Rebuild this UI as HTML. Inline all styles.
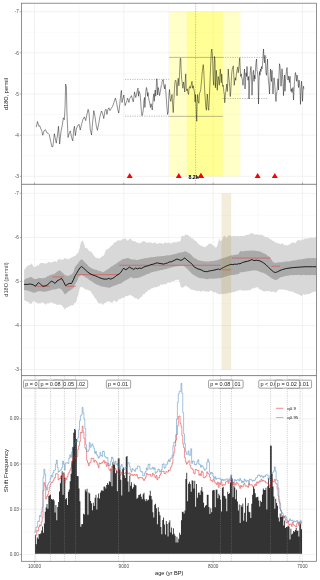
<!DOCTYPE html>
<html lang="en"><head><meta charset="utf-8"><title>Shift frequency plot</title>
<style>html,body{margin:0;padding:0;background:#fff}body{width:320px;height:580px;overflow:hidden}svg text{white-space:pre}</style></head>
<body>
<svg width="320" height="580" viewBox="0 0 320 580" style="display:block">
<rect width="320" height="580" fill="#fff"/>
<defs>
<clipPath id="c1"><rect x="21.5" y="3.2" width="295.0" height="181.10000000000002"/></clipPath>
<clipPath id="c2"><rect x="21.5" y="184.3" width="295.0" height="191.3"/></clipPath>
<clipPath id="c3"><rect x="21.5" y="375.6" width="295.0" height="185.69999999999993"/></clipPath>
</defs>
<g id="panel1">
<line x1="79.17" x2="79.17" y1="3.2" y2="184.3" stroke="#f1f1f1" stroke-width="0.35"/>
<line x1="168.50" x2="168.50" y1="3.2" y2="184.3" stroke="#f1f1f1" stroke-width="0.35"/>
<line x1="257.83" x2="257.83" y1="3.2" y2="184.3" stroke="#f1f1f1" stroke-width="0.35"/>
<line x1="21.5" x2="316.5" y1="32.27" y2="32.27" stroke="#f1f1f1" stroke-width="0.35"/>
<line x1="21.5" x2="316.5" y1="73.42" y2="73.42" stroke="#f1f1f1" stroke-width="0.35"/>
<line x1="21.5" x2="316.5" y1="114.58" y2="114.58" stroke="#f1f1f1" stroke-width="0.35"/>
<line x1="21.5" x2="316.5" y1="155.72" y2="155.72" stroke="#f1f1f1" stroke-width="0.35"/>
<line x1="34.50" x2="34.50" y1="3.2" y2="184.3" stroke="#e9e9e9" stroke-width="0.6"/>
<line x1="123.83" x2="123.83" y1="3.2" y2="184.3" stroke="#e9e9e9" stroke-width="0.6"/>
<line x1="213.16" x2="213.16" y1="3.2" y2="184.3" stroke="#e9e9e9" stroke-width="0.6"/>
<line x1="302.49" x2="302.49" y1="3.2" y2="184.3" stroke="#e9e9e9" stroke-width="0.6"/>
<line x1="21.5" x2="316.5" y1="11.70" y2="11.70" stroke="#e9e9e9" stroke-width="0.6"/>
<line x1="21.5" x2="316.5" y1="52.85" y2="52.85" stroke="#e9e9e9" stroke-width="0.6"/>
<line x1="21.5" x2="316.5" y1="94.00" y2="94.00" stroke="#e9e9e9" stroke-width="0.6"/>
<line x1="21.5" x2="316.5" y1="135.15" y2="135.15" stroke="#e9e9e9" stroke-width="0.6"/>
<line x1="21.5" x2="316.5" y1="176.30" y2="176.30" stroke="#e9e9e9" stroke-width="0.6"/>
<g clip-path="url(#c1)">
<rect x="169" y="11.70" width="71.40" height="164.60" fill="#ffff00" fill-opacity="0.22"/>
<rect x="186.9" y="11.70" width="35.85" height="164.60" fill="#ffff00" fill-opacity="0.25"/>
<line x1="195.6" x2="195.6" y1="3.2" y2="184.3" stroke="#909090" stroke-width="0.55" stroke-dasharray="1.3 1.3"/>
<line x1="125" x2="169" y1="79.4" y2="79.4" stroke="#555" stroke-width="0.4" stroke-dasharray="1.2 1.2"/>
<line x1="125" x2="169" y1="116.2" y2="116.2" stroke="#555" stroke-width="0.4" stroke-dasharray="1.2 1.2"/>
<line x1="169" x2="222.75" y1="57.4" y2="57.4" stroke="#555" stroke-width="0.4"/>
<line x1="169" x2="222.75" y1="116.4" y2="116.4" stroke="#555" stroke-width="0.4"/>
<line x1="222.75" x2="267.5" y1="57.4" y2="57.4" stroke="#555" stroke-width="0.4" stroke-dasharray="1.2 1.2"/>
<line x1="222.75" x2="267.5" y1="98.5" y2="98.5" stroke="#555" stroke-width="0.4" stroke-dasharray="1.2 1.2"/>
<polyline fill="none" stroke="#000" stroke-width="0.44" stroke-linejoin="round" points="36.19,127.19 37.5,121.56 38.81,126.25 39.75,125.69 40.88,129.06 41.62,130.0 42.75,135.25 44.06,130.94 45.38,129.62 46.88,132.81 48.19,133.38 49.31,134.69 50.62,141.25 51.94,146.88 52.88,146.5 54.38,133.75 55.31,138.44 56.25,143.12 57.56,134.69 58.5,126.25 59.62,144.06 60.94,131.88 62.25,125.31 63.38,117.81 64.31,119.69 65.06,107.5 65.62,84.06 66.38,86.88 66.94,113.12 68.06,137.5 69.38,132.81 70.31,130.94 71.62,137.5 72.75,140.88 73.69,130.0 74.44,126.25 75.38,135.62 76.31,129.06 77.81,125.31 79.12,124.38 80.25,130.0 81.56,124.38 83.06,119.12 84.38,116.88 85.69,120.62 86.81,115.0 88.12,109.38 89.06,113.12 89.12,114.38 90.25,129.38 91.56,135.0 92.5,123.75 93.81,110.62 94.94,116.25 96.25,125.62 97.38,130.31 98.69,123.75 100.0,116.25 101.5,111.0 102.81,114.38 103.75,118.5 105.06,110.62 106.0,109.12 106.94,114.38 108.06,109.12 109.0,107.81 109.94,110.62 111.25,108.38 112.75,105.94 114.06,102.19 115.38,98.06 116.5,102.19 117.81,109.69 118.75,113.06 119.69,105.0 120.62,95.62 121.38,90.38 122.0,102.5 122.62,99.38 123.25,97.5 123.88,95.0 124.5,101.25 125.12,105.62 126.0,103.12 126.75,101.25 127.62,98.12 128.25,100.0 128.88,102.5 129.75,98.75 130.5,97.5 131.38,95.62 132.0,97.5 132.62,100.0 133.25,101.88 133.88,97.5 134.5,91.88 135.12,95.0 135.75,97.5 136.38,95.0 137.0,91.88 137.62,89.38 138.0,88.12 138.5,96.25 139.0,91.25 139.5,92.5 140.12,94.38 140.75,102.5 141.38,111.25 142.0,115.62 142.62,113.75 143.25,110.0 143.88,101.25 144.5,97.5 144.88,107.5 145.5,96.25 146.0,90.0 146.5,87.5 147.0,90.0 147.62,96.25 148.0,92.5 148.5,97.5 149.0,100.0 149.75,103.12 150.5,107.5 151.12,103.75 151.75,106.88 152.25,110.0 152.75,103.75 153.25,97.5 153.88,93.75 154.25,101.25 154.75,92.5 155.25,90.0 155.75,96.25 156.25,87.5 156.75,78.75 157.25,82.5 157.62,95.0 158.25,87.5 158.88,91.25 159.5,95.62 160.12,92.5 160.75,88.75 161.38,85.0 161.88,84.38 162.0,82.0 162.62,80.12 163.25,79.5 163.88,85.75 164.5,88.88 165.12,84.5 165.75,90.75 166.38,99.5 167.0,108.25 167.62,114.5 168.25,112.0 168.88,95.75 169.5,89.5 170.12,98.25 170.75,101.38 171.38,98.25 172.0,94.5 172.62,104.5 173.25,112.62 173.88,99.5 174.5,88.25 175.12,80.75 175.75,80.12 176.38,83.25 177.0,95.75 177.62,83.25 178.25,78.25 178.88,85.75 179.25,79.5 179.75,69.5 180.25,58.25 180.75,58.25 181.12,69.5 181.62,78.25 182.25,83.25 182.88,88.25 183.5,82.0 184.12,85.75 184.75,92.0 185.25,80.75 185.75,73.88 186.25,88.25 186.75,90.75 187.38,88.88 188.0,93.25 188.5,94.5 189.12,88.25 189.75,86.38 190.5,88.25 191.25,84.5 192.0,81.38 192.62,88.25 193.25,85.75 193.88,89.5 194.5,92.0 195.12,102.0 195.5,94.5 196.0,104.5 196.5,117.0 196.75,121.38 197.12,102.0 197.62,94.5 198.25,102.0 198.88,103.25 199.5,93.25 200.12,92.0 200.75,89.5 201.38,82.0 201.88,77.0 202.0,74.0 202.62,69.0 203.25,64.62 203.75,70.25 204.25,81.5 204.75,91.5 205.25,99.0 205.75,106.5 206.38,110.25 206.75,102.75 207.25,94.0 207.75,100.25 208.25,109.0 208.75,110.25 209.25,100.25 209.75,87.75 210.25,75.25 210.75,62.75 211.25,52.75 211.75,49.0 212.25,52.75 212.75,64.0 213.25,80.25 213.75,85.25 214.12,69.0 214.5,56.5 215.0,60.25 215.38,87.75 215.75,81.5 216.25,70.25 216.75,76.5 217.25,90.25 217.75,81.5 218.25,76.5 218.75,80.25 219.25,85.25 219.75,77.75 220.25,69.0 220.75,74.0 221.25,82.75 221.75,74.0 222.25,81.5 222.75,86.5 223.25,85.25 223.75,91.5 224.25,94.0 224.75,102.75 225.25,95.25 225.75,91.5 226.25,87.75 226.75,84.0 227.25,91.5 227.75,82.75 228.25,69.0 228.75,76.5 229.25,81.5 229.75,87.75 230.25,96.5 230.75,91.5 231.25,81.5 231.75,72.75 232.25,69.0 232.75,67.75 233.25,65.88 233.75,75.25 234.25,85.25 234.75,80.25 235.25,77.75 235.75,80.25 236.25,75.25 236.75,71.5 237.25,69.0 237.75,67.12 238.25,72.75 238.75,69.0 239.25,62.75 239.75,57.75 240.25,69.0 240.75,76.5 241.25,74.0 241.75,77.75 242.0,77.75 242.5,81.5 243.0,85.25 243.5,80.25 244.0,75.25 244.5,69.0 245.0,89.0 245.5,81.5 246.0,72.75 246.5,76.5 247.0,66.5 247.5,75.25 248.0,80.25 248.5,76.5 249.0,99.0 249.5,85.25 250.0,75.25 250.5,69.0 251.0,66.5 251.5,75.25 252.0,95.25 252.5,81.5 253.0,72.75 253.5,70.25 254.0,81.5 254.5,75.25 255.0,79.0 255.5,69.0 256.0,62.75 256.5,59.0 257.0,70.25 257.5,72.75 258.0,77.75 258.5,104.0 259.0,81.5 259.5,71.5 260.0,75.25 260.5,69.0 261.0,71.5 261.5,66.5 262.0,69.0 262.5,65.25 263.0,56.5 263.5,49.0 264.0,57.75 264.5,62.75 265.0,55.25 265.5,64.0 266.0,72.75 266.5,75.25 267.0,66.5 267.5,59.0 268.0,75.25 268.5,81.5 269.0,85.25 269.5,94.0 270.0,80.25 270.5,69.0 271.0,76.5 271.5,81.5 272.0,70.25 272.5,85.25 273.0,94.0 273.5,85.25 274.0,77.75 274.5,81.5 275.0,87.75 275.5,96.5 276.0,101.5 276.5,94.0 277.0,91.5 277.5,85.25 277.88,80.25 278.0,78.75 278.5,90.0 279.0,75.0 279.5,63.75 280.0,66.25 280.5,75.0 281.0,86.25 281.5,78.75 282.0,68.75 282.5,75.0 283.0,82.5 283.5,95.62 284.0,85.0 284.5,75.0 285.0,91.25 285.5,81.25 286.0,75.0 286.5,71.25 287.0,67.5 287.5,75.0 288.0,80.0 288.5,76.25 289.0,78.75 289.5,82.5 290.0,76.25 290.5,86.25 291.0,91.25 291.5,88.75 292.0,92.5 292.5,90.0 293.0,87.5 293.5,100.0 294.0,90.0 294.5,81.25 295.0,75.0 295.5,72.5 296.0,76.25 296.5,81.25 297.0,75.0 297.5,77.5 298.0,82.5 298.5,87.5 299.0,80.0 299.5,83.75 300.0,88.75 300.5,104.38 301.0,91.25 301.5,81.25 302.0,87.5 302.5,101.25 303.0,91.25 303.5,86.25 303.88,88.75"/>
<path d="M126.70 177.9 L132.70 177.9 L129.70 172.9 Z" fill="#ff0000"/>
<path d="M175.75 177.9 L181.75 177.9 L178.75 172.9 Z" fill="#ff0000"/>
<path d="M197.90 177.9 L203.90 177.9 L200.90 172.9 Z" fill="#ff0000"/>
<path d="M254.65 177.9 L260.65 177.9 L257.65 172.9 Z" fill="#ff0000"/>
<path d="M271.80 177.9 L277.80 177.9 L274.80 172.9 Z" fill="#ff0000"/>
<text x="193.6" y="179.1" font-family="Liberation Sans, Arial, sans-serif" font-size="5.3" font-weight="bold" text-anchor="middle" fill="#000">8.2k</text>
<path d="M197.90 177.9 L203.90 177.9 L200.90 172.9 Z" fill="#ff0000"/>
</g></g>
<g id="panel2">
<line x1="79.17" x2="79.17" y1="184.3" y2="375.6" stroke="#f1f1f1" stroke-width="0.35"/>
<line x1="168.50" x2="168.50" y1="184.3" y2="375.6" stroke="#f1f1f1" stroke-width="0.35"/>
<line x1="257.83" x2="257.83" y1="184.3" y2="375.6" stroke="#f1f1f1" stroke-width="0.35"/>
<line x1="21.5" x2="316.5" y1="215.35" y2="215.35" stroke="#f1f1f1" stroke-width="0.35"/>
<line x1="21.5" x2="316.5" y1="259.45" y2="259.45" stroke="#f1f1f1" stroke-width="0.35"/>
<line x1="21.5" x2="316.5" y1="303.55" y2="303.55" stroke="#f1f1f1" stroke-width="0.35"/>
<line x1="21.5" x2="316.5" y1="347.65" y2="347.65" stroke="#f1f1f1" stroke-width="0.35"/>
<line x1="34.50" x2="34.50" y1="184.3" y2="375.6" stroke="#e9e9e9" stroke-width="0.6"/>
<line x1="123.83" x2="123.83" y1="184.3" y2="375.6" stroke="#e9e9e9" stroke-width="0.6"/>
<line x1="213.16" x2="213.16" y1="184.3" y2="375.6" stroke="#e9e9e9" stroke-width="0.6"/>
<line x1="302.49" x2="302.49" y1="184.3" y2="375.6" stroke="#e9e9e9" stroke-width="0.6"/>
<line x1="21.5" x2="316.5" y1="193.30" y2="193.30" stroke="#e9e9e9" stroke-width="0.6"/>
<line x1="21.5" x2="316.5" y1="237.40" y2="237.40" stroke="#e9e9e9" stroke-width="0.6"/>
<line x1="21.5" x2="316.5" y1="281.50" y2="281.50" stroke="#e9e9e9" stroke-width="0.6"/>
<line x1="21.5" x2="316.5" y1="325.60" y2="325.60" stroke="#e9e9e9" stroke-width="0.6"/>
<line x1="21.5" x2="316.5" y1="369.70" y2="369.70" stroke="#e9e9e9" stroke-width="0.6"/>
<g clip-path="url(#c2)">
<polygon fill="#d8d8d8" points="24.12,269.76 25.02,268.79 25.92,267.75 26.82,266.47 27.72,265.5 28.62,265.47 29.52,265.12 30.42,264.8 31.32,263.27 32.22,264.14 33.12,265.94 34.02,266.73 34.92,266.96 35.82,266.42 36.72,265.63 37.62,265.0 38.52,265.69 39.42,263.8 40.32,263.19 41.22,262.73 42.12,262.98 43.02,263.05 43.92,263.13 44.82,263.56 45.72,263.6 46.62,263.19 47.52,262.77 48.42,262.07 49.32,261.47 50.22,262.89 51.12,262.11 52.02,262.38 52.92,261.49 53.82,261.86 54.72,261.21 55.62,261.35 56.52,262.44 57.42,260.34 58.32,260.15 59.22,258.57 60.12,259.18 61.02,259.91 61.92,259.87 62.82,259.75 63.72,259.02 64.62,257.92 65.52,258.55 66.42,258.23 67.32,259.74 68.22,258.7 69.12,258.93 70.02,258.32 70.92,258.35 71.82,257.05 72.72,257.18 73.62,256.09 74.52,256.17 75.42,255.38 76.32,254.72 77.22,253.52 78.12,252.86 79.02,250.55 79.92,247.02 80.82,242.59 81.72,241.4 82.62,240.25 83.52,242.17 84.42,244.72 85.32,247.9 86.22,248.0 87.12,248.26 88.02,249.4 88.92,250.75 89.82,251.55 90.72,251.61 91.62,251.95 92.52,253.19 93.42,254.96 94.32,255.89 95.22,256.93 96.12,258.17 97.02,257.66 97.92,257.62 98.82,258.93 99.72,258.0 100.62,257.73 101.52,257.09 102.42,255.51 103.32,256.22 104.22,254.78 105.12,251.82 106.02,250.0 106.92,249.42 107.82,248.66 108.72,248.71 109.62,247.61 110.52,246.59 111.42,245.86 112.32,245.12 113.22,244.53 114.12,242.24 115.02,242.33 115.92,242.18 116.82,241.24 117.72,240.27 118.62,240.36 119.52,240.58 120.42,240.41 121.32,240.57 122.22,239.12 123.12,239.16 124.02,238.8 124.92,238.8 125.82,238.29 126.72,240.09 127.62,240.65 128.52,239.94 129.42,238.91 130.32,238.47 131.22,239.35 132.12,240.97 133.02,240.66 133.92,240.73 134.82,241.68 135.72,241.28 136.62,242.75 137.52,242.2 138.42,242.89 139.32,243.15 140.22,243.17 141.12,242.53 142.02,242.17 142.92,241.03 143.82,241.35 144.72,241.61 145.62,242.0 146.52,242.87 147.42,242.49 148.32,242.82 149.22,242.32 150.12,242.18 151.02,242.68 151.92,243.12 152.82,243.46 153.72,242.74 154.62,242.74 155.52,242.19 156.42,243.77 157.32,243.94 158.22,243.41 159.12,243.15 160.02,242.69 160.92,243.2 161.82,243.33 162.72,244.34 163.62,243.59 164.52,242.94 165.42,241.95 166.32,243.45 167.22,242.92 168.12,242.23 169.02,243.15 169.92,242.22 170.82,244.21 171.72,242.85 172.62,242.53 173.52,242.38 174.42,241.67 175.32,242.63 176.22,241.81 177.12,242.6 178.02,241.15 178.92,241.35 179.82,241.96 180.72,240.31 181.62,236.01 182.52,235.55 183.42,236.34 184.32,236.02 185.22,234.32 186.12,234.75 187.02,235.05 187.92,235.12 188.82,235.65 189.72,236.82 190.62,236.87 191.52,238.39 192.42,238.32 193.32,239.2 194.22,239.72 195.12,241.0 196.02,241.37 196.92,241.84 197.82,243.55 198.72,244.48 199.62,244.81 200.52,245.63 201.42,245.75 202.32,245.91 203.22,246.87 204.12,247.26 205.02,247.15 205.92,246.44 206.82,245.82 207.72,245.14 208.62,244.04 209.52,243.3 210.42,243.84 211.32,243.88 212.22,244.66 213.12,245.55 214.02,245.98 214.92,246.8 215.82,247.74 216.72,246.65 217.62,244.69 218.52,240.9 219.42,237.98 220.32,241.35 221.22,240.69 222.12,239.71 223.02,237.36 223.92,235.97 224.82,235.87 225.72,237.31 226.62,237.65 227.52,237.11 228.42,235.3 229.32,235.44 230.22,234.94 231.12,236.26 232.02,236.78 232.92,235.87 233.82,236.02 234.72,235.73 235.62,236.38 236.52,235.86 237.42,236.16 238.32,235.87 239.22,236.62 240.12,236.01 241.02,235.65 241.92,235.99 242.82,236.12 243.72,236.34 244.62,235.87 245.52,235.51 246.42,234.79 247.32,234.77 248.22,235.36 249.12,234.38 250.02,233.69 250.92,233.08 251.82,233.26 252.72,233.75 253.62,233.66 254.52,234.4 255.42,234.66 256.32,234.34 257.22,234.44 258.12,234.47 259.02,234.56 259.92,235.56 260.82,234.21 261.72,235.28 262.62,235.27 263.52,235.63 264.42,236.31 265.32,237.14 266.22,237.02 267.12,237.34 268.02,237.55 268.92,238.19 269.82,239.08 270.72,239.29 271.62,239.85 272.52,240.69 273.42,241.06 274.32,241.23 275.22,242.65 276.12,242.62 277.02,242.65 277.92,243.71 278.82,243.06 279.72,244.0 280.62,244.23 281.52,243.36 282.42,243.53 283.32,244.0 284.22,245.03 285.12,245.45 286.02,244.55 286.92,245.82 287.82,245.18 288.72,244.75 289.62,244.26 290.52,243.94 291.42,242.85 292.32,242.8 293.22,242.27 294.12,242.63 295.02,242.93 295.92,242.86 296.82,241.12 297.72,240.14 298.62,240.37 299.52,239.87 300.42,240.95 301.32,240.07 302.22,239.25 303.12,239.8 304.02,239.44 304.92,238.28 305.82,238.6 306.72,238.55 307.62,238.48 308.52,238.36 309.42,237.96 310.32,238.04 311.22,237.57 312.12,237.31 313.02,238.28 313.92,237.63 314.82,237.5 316.5,237.0 316.5,291.25 314.82,291.67 313.92,291.68 313.02,291.87 312.12,292.65 311.22,292.97 310.32,292.92 309.42,294.54 308.52,293.94 307.62,293.94 306.72,294.26 305.82,294.15 304.92,295.24 304.02,293.98 303.12,294.13 302.22,295.69 301.32,296.0 300.42,295.13 299.52,295.03 298.62,294.35 297.72,293.99 296.82,293.61 295.92,293.42 295.02,292.72 294.12,292.75 293.22,291.85 292.32,291.44 291.42,291.93 290.52,291.01 289.62,290.94 288.72,291.48 287.82,289.98 286.92,290.65 286.02,289.73 285.12,290.32 284.22,289.37 283.32,289.53 282.42,289.79 281.52,289.16 280.62,289.42 279.72,289.57 278.82,289.61 277.92,290.5 277.02,291.22 276.12,292.65 275.22,292.25 274.32,291.6 273.42,292.01 272.52,291.52 271.62,292.12 270.72,291.95 269.82,290.64 268.92,291.21 268.02,291.2 267.12,291.12 266.22,291.37 265.32,291.12 264.42,291.67 263.52,291.13 262.62,290.48 261.72,290.43 260.82,289.72 259.92,289.32 259.02,289.11 258.12,287.72 257.22,286.42 256.32,287.8 255.42,287.65 254.52,287.67 253.62,288.8 252.72,288.25 251.82,288.6 250.92,290.13 250.02,289.94 249.12,290.59 248.22,289.8 247.32,290.57 246.42,290.55 245.52,290.49 244.62,290.32 243.72,290.84 242.82,290.87 241.92,290.04 241.02,290.45 240.12,289.66 239.22,290.23 238.32,290.7 237.42,290.69 236.52,291.42 235.62,290.99 234.72,291.96 233.82,292.2 232.92,292.32 232.02,291.9 231.12,292.76 230.22,293.32 229.32,292.25 228.42,292.89 227.52,293.87 226.62,293.11 225.72,293.7 224.82,293.83 223.92,293.75 223.02,294.31 222.12,293.84 221.22,294.09 220.32,294.08 219.42,294.47 218.52,294.11 217.62,293.54 216.72,293.29 215.82,292.39 214.92,292.3 214.02,292.08 213.12,292.44 212.22,290.99 211.32,290.97 210.42,290.53 209.52,291.24 208.62,292.06 207.72,291.89 206.82,290.98 205.92,291.87 205.02,291.55 204.12,291.05 203.22,290.7 202.32,290.73 201.42,291.84 200.52,291.49 199.62,291.05 198.72,290.18 197.82,291.68 196.92,290.7 196.02,290.81 195.12,290.37 194.22,290.39 193.32,289.73 192.42,289.64 191.52,289.41 190.62,289.46 189.72,288.49 188.82,287.51 187.92,287.06 187.02,286.76 186.12,285.79 185.22,285.55 184.32,286.64 183.42,287.03 182.52,287.93 181.62,287.22 180.72,286.76 179.82,282.85 178.92,280.3 178.02,279.55 177.12,279.52 176.22,280.37 175.32,279.82 174.42,280.98 173.52,280.95 172.62,280.93 171.72,281.58 170.82,282.41 169.92,282.71 169.02,282.46 168.12,282.31 167.22,282.94 166.32,284.15 165.42,284.13 164.52,283.89 163.62,284.56 162.72,284.57 161.82,284.85 160.92,284.54 160.02,285.02 159.12,286.71 158.22,285.76 157.32,287.18 156.42,286.89 155.52,287.82 154.62,286.84 153.72,287.66 152.82,288.37 151.92,288.26 151.02,288.54 150.12,289.86 149.22,289.8 148.32,290.09 147.42,291.05 146.52,292.15 145.62,292.16 144.72,294.32 143.82,293.84 142.92,294.69 142.02,296.97 141.12,296.42 140.22,298.21 139.32,298.24 138.42,299.69 137.52,299.45 136.62,298.01 135.72,298.18 134.82,298.24 133.92,297.23 133.02,296.4 132.12,296.01 131.22,295.44 130.32,294.21 129.42,295.97 128.52,295.05 127.62,296.46 126.72,295.65 125.82,296.02 124.92,296.69 124.02,298.09 123.12,297.52 122.22,298.3 121.32,298.0 120.42,299.47 119.52,299.3 118.62,299.26 117.72,301.04 116.82,302.33 115.92,301.51 115.02,300.95 114.12,300.38 113.22,300.92 112.32,303.3 111.42,302.3 110.52,302.45 109.62,301.6 108.72,301.26 107.82,301.15 106.92,301.92 106.02,302.18 105.12,303.36 104.22,302.91 103.32,304.79 102.42,304.52 101.52,303.21 100.62,303.39 99.72,303.29 98.82,303.81 97.92,301.91 97.02,301.4 96.12,298.53 95.22,298.65 94.32,296.98 93.42,295.54 92.52,294.35 91.62,293.08 90.72,291.3 89.82,290.84 88.92,290.31 88.02,290.28 87.12,289.65 86.22,289.39 85.32,289.2 84.42,288.95 83.52,287.56 82.62,287.77 81.72,286.49 80.82,287.22 79.92,287.4 79.02,290.94 78.12,295.21 77.22,297.49 76.32,301.79 75.42,303.01 74.52,302.7 73.62,304.89 72.72,305.49 71.82,304.91 70.92,305.59 70.02,306.48 69.12,306.18 68.22,306.64 67.32,308.03 66.42,307.11 65.52,309.0 64.62,309.26 63.72,307.9 62.82,306.49 61.92,305.34 61.02,305.43 60.12,304.17 59.22,304.84 58.32,304.81 57.42,304.58 56.52,304.93 55.62,304.19 54.72,303.57 53.82,303.46 52.92,303.1 52.02,302.85 51.12,302.61 50.22,302.34 49.32,303.81 48.42,303.01 47.52,303.12 46.62,303.99 45.72,304.85 44.82,303.66 43.92,303.18 43.02,302.93 42.12,302.08 41.22,302.92 40.32,303.52 39.42,303.33 38.52,303.51 37.62,303.27 36.72,302.65 35.82,302.22 34.92,301.83 34.02,301.05 33.12,301.57 32.22,302.52 31.32,303.77 30.42,304.32 29.52,302.79 28.62,302.34 27.72,302.29 26.82,301.22 25.92,300.89 25.02,300.76 24.12,299.66"/>
<polygon fill="#aaaaaa" points="24.12,279.68 25.02,279.53 25.92,278.79 26.82,278.25 27.72,278.17 28.62,277.85 29.52,277.52 30.42,277.24 31.32,276.93 32.22,277.57 33.12,278.27 34.02,279.07 34.92,278.96 35.82,279.04 36.72,278.88 37.62,278.33 38.52,278.32 39.42,277.91 40.32,278.12 41.22,278.36 42.12,278.4 43.02,278.02 43.92,278.21 44.82,277.69 45.72,277.79 46.62,276.85 47.52,276.33 48.42,276.13 49.32,275.29 50.22,275.26 51.12,274.79 52.02,274.58 52.92,274.23 53.82,274.13 54.72,273.39 55.62,272.88 56.52,272.33 57.42,271.37 58.32,271.25 59.22,270.4 60.12,270.57 61.02,271.32 61.92,272.16 62.82,272.99 63.72,273.63 64.62,274.65 65.52,275.23 66.42,275.65 67.32,275.77 68.22,275.97 69.12,275.38 70.02,275.11 70.92,274.82 71.82,273.93 72.72,272.92 73.62,271.65 74.52,268.34 75.42,266.28 76.32,265.44 77.22,264.33 78.12,263.18 79.02,261.79 79.92,260.69 80.82,259.72 81.72,259.45 82.62,259.71 83.52,260.91 84.42,261.65 85.32,262.76 86.22,263.65 87.12,264.36 88.02,265.68 88.92,266.62 89.82,266.89 90.72,267.75 91.62,268.55 92.52,268.49 93.42,269.12 94.32,269.52 95.22,269.86 96.12,269.66 97.02,270.01 97.92,270.5 98.82,270.95 99.72,270.88 100.62,271.26 101.52,271.5 102.42,272.14 103.32,271.99 104.22,271.56 105.12,270.97 106.02,270.45 106.92,269.74 107.82,269.13 108.72,268.66 109.62,267.95 110.52,267.08 111.42,266.59 112.32,266.21 113.22,265.5 114.12,264.83 115.02,264.32 115.92,264.19 116.82,263.07 117.72,262.55 118.62,261.95 119.52,261.24 120.42,260.86 121.32,260.21 122.22,259.53 123.12,258.81 124.02,259.03 124.92,258.77 125.82,258.48 126.72,257.96 127.62,258.24 128.52,258.0 129.42,258.69 130.32,259.05 131.22,259.13 132.12,259.55 133.02,259.55 133.92,259.84 134.82,259.6 135.72,259.81 136.62,260.14 137.52,260.06 138.42,259.68 139.32,259.42 140.22,259.24 141.12,259.1 142.02,258.99 142.92,258.68 143.82,258.55 144.72,258.34 145.62,258.09 146.52,258.19 147.42,258.01 148.32,257.78 149.22,257.67 150.12,257.56 151.02,257.31 151.92,257.09 152.82,257.16 153.72,256.94 154.62,256.98 155.52,256.66 156.42,256.64 157.32,256.56 158.22,256.37 159.12,256.38 160.02,256.15 160.92,256.11 161.82,256.21 162.72,256.06 163.62,255.91 164.52,255.66 165.42,255.75 166.32,255.81 167.22,255.03 168.12,255.4 169.02,255.13 169.92,255.13 170.82,255.01 171.72,254.52 172.62,254.76 173.52,254.22 174.42,254.09 175.32,254.02 176.22,253.64 177.12,253.42 178.02,253.04 178.92,252.7 179.82,252.68 180.72,252.33 181.62,252.52 182.52,252.17 183.42,252.08 184.32,251.4 185.22,251.33 186.12,251.6 187.02,252.19 187.92,252.39 188.82,253.25 189.72,253.57 190.62,254.18 191.52,255.34 192.42,256.13 193.32,257.19 194.22,257.85 195.12,258.38 196.02,258.74 196.92,259.26 197.82,260.16 198.72,260.2 199.62,260.55 200.52,260.71 201.42,260.86 202.32,261.02 203.22,261.14 204.12,261.32 205.02,261.21 205.92,261.77 206.82,261.5 207.72,261.3 208.62,261.52 209.52,261.48 210.42,261.09 211.32,261.11 212.22,261.3 213.12,261.04 214.02,260.84 214.92,260.75 215.82,260.4 216.72,260.14 217.62,260.19 218.52,259.67 219.42,259.36 220.32,259.11 221.22,258.66 222.12,258.14 223.02,258.32 223.92,257.72 224.82,257.7 225.72,257.21 226.62,256.69 227.52,256.79 228.42,256.29 229.32,255.94 230.22,255.85 231.12,255.34 232.02,255.55 232.92,255.19 233.82,255.09 234.72,254.81 235.62,254.87 236.52,254.58 237.42,254.45 238.32,254.3 239.22,252.68 240.12,251.28 241.02,251.31 241.92,251.14 242.82,251.18 243.72,251.38 244.62,251.02 245.52,250.73 246.42,250.86 247.32,250.83 248.22,250.94 249.12,250.55 250.02,250.45 250.92,250.55 251.82,250.53 252.72,250.65 253.62,250.59 254.52,250.76 255.42,250.73 256.32,251.09 257.22,251.1 258.12,251.27 259.02,251.29 259.92,251.44 260.82,251.96 261.72,252.25 262.62,252.75 263.52,253.21 264.42,253.53 265.32,254.01 266.22,254.35 267.12,255.2 268.02,255.96 268.92,256.59 269.82,257.21 270.72,258.79 271.62,259.8 272.52,261.53 273.42,262.09 274.32,262.78 275.22,262.86 276.12,262.96 277.02,262.53 277.92,262.57 278.82,262.27 279.72,262.27 280.62,262.19 281.52,262.29 282.42,262.19 283.32,261.9 284.22,261.86 285.12,261.7 286.02,261.61 286.92,261.4 287.82,261.52 288.72,261.53 289.62,261.2 290.52,261.22 291.42,260.8 292.32,260.65 293.22,260.54 294.12,260.6 295.02,260.26 295.92,260.34 296.82,260.05 297.72,259.8 298.62,259.48 299.52,259.54 300.42,259.28 301.32,259.39 302.22,259.2 303.12,258.76 304.02,259.02 304.92,258.85 305.82,258.21 306.72,258.37 307.62,258.45 308.52,258.05 309.42,258.11 310.32,258.24 311.22,258.14 312.12,258.11 313.02,258.11 313.92,257.88 314.82,258.37 316.5,258.0 316.5,275.0 314.82,275.09 313.92,275.2 313.02,275.03 312.12,274.85 311.22,275.11 310.32,275.13 309.42,275.32 308.52,275.04 307.62,275.1 306.72,275.16 305.82,275.12 304.92,275.22 304.02,274.8 303.12,274.8 302.22,275.22 301.32,275.2 300.42,275.13 299.52,274.87 298.62,274.94 297.72,274.76 296.82,274.94 295.92,274.91 295.02,274.9 294.12,275.05 293.22,275.13 292.32,275.25 291.42,274.75 290.52,275.18 289.62,275.17 288.72,275.53 287.82,275.65 286.92,275.77 286.02,276.09 285.12,276.09 284.22,276.38 283.32,276.61 282.42,276.95 281.52,277.08 280.62,277.24 279.72,277.8 278.82,278.46 277.92,279.29 277.02,279.6 276.12,279.94 275.22,280.18 274.32,279.49 273.42,279.06 272.52,278.88 271.62,278.25 270.72,277.42 269.82,276.91 268.92,276.08 268.02,275.82 267.12,275.02 266.22,274.31 265.32,273.73 264.42,273.56 263.52,273.12 262.62,272.59 261.72,272.42 260.82,272.18 259.92,271.76 259.02,271.62 258.12,270.87 257.22,270.96 256.32,270.55 255.42,270.55 254.52,270.27 253.62,270.48 252.72,270.42 251.82,270.82 250.92,270.52 250.02,270.97 249.12,271.12 248.22,271.3 247.32,271.38 246.42,271.35 245.52,271.71 244.62,271.97 243.72,271.9 242.82,272.17 241.92,272.0 241.02,272.5 240.12,272.33 239.22,273.44 238.32,273.92 237.42,274.17 236.52,274.41 235.62,274.41 234.72,274.73 233.82,274.91 232.92,274.89 232.02,274.9 231.12,275.08 230.22,275.15 229.32,275.41 228.42,275.68 227.52,275.84 226.62,276.29 225.72,276.69 224.82,276.65 223.92,277.1 223.02,277.44 222.12,277.64 221.22,277.95 220.32,278.14 219.42,278.36 218.52,278.24 217.62,278.25 216.72,278.49 215.82,278.43 214.92,278.53 214.02,278.6 213.12,278.9 212.22,278.86 211.32,278.55 210.42,278.63 209.52,278.62 208.62,279.04 207.72,279.24 206.82,279.23 205.92,278.82 205.02,279.08 204.12,278.69 203.22,278.35 202.32,278.39 201.42,278.21 200.52,278.37 199.62,277.94 198.72,277.73 197.82,277.52 196.92,276.61 196.02,276.47 195.12,275.77 194.22,275.24 193.32,275.12 192.42,273.96 191.52,273.43 190.62,272.19 189.72,271.4 188.82,270.39 187.92,269.49 187.02,268.81 186.12,267.69 185.22,267.16 184.32,266.19 183.42,265.97 182.52,265.44 181.62,265.79 180.72,265.55 179.82,265.88 178.92,265.97 178.02,266.22 177.12,266.34 176.22,266.25 175.32,266.55 174.42,266.68 173.52,266.98 172.62,266.96 171.72,267.58 170.82,267.8 169.92,267.46 169.02,268.23 168.12,268.53 167.22,268.43 166.32,268.91 165.42,269.05 164.52,269.4 163.62,269.29 162.72,269.91 161.82,270.03 160.92,270.06 160.02,270.35 159.12,270.68 158.22,270.6 157.32,270.88 156.42,271.49 155.52,271.22 154.62,271.48 153.72,271.75 152.82,272.02 151.92,272.34 151.02,272.62 150.12,273.01 149.22,273.42 148.32,273.69 147.42,274.07 146.52,274.32 145.62,274.9 144.72,275.13 143.82,275.77 142.92,275.85 142.02,276.56 141.12,276.73 140.22,277.23 139.32,277.43 138.42,277.8 137.52,277.88 136.62,278.01 135.72,278.07 134.82,278.24 133.92,278.22 133.02,278.44 132.12,277.73 131.22,277.26 130.32,277.19 129.42,278.15 128.52,278.8 127.62,279.15 126.72,279.8 125.82,280.29 124.92,280.68 124.02,281.37 123.12,281.69 122.22,282.49 121.32,283.42 120.42,283.54 119.52,283.73 118.62,284.07 117.72,284.52 116.82,284.75 115.92,285.22 115.02,285.61 114.12,285.71 113.22,285.92 112.32,286.43 111.42,286.93 110.52,287.34 109.62,287.75 108.72,287.64 107.82,287.47 106.92,287.13 106.02,287.42 105.12,286.88 104.22,286.81 103.32,286.86 102.42,286.51 101.52,286.43 100.62,286.19 99.72,285.73 98.82,285.32 97.92,284.95 97.02,284.74 96.12,284.2 95.22,283.69 94.32,283.24 93.42,282.69 92.52,281.82 91.62,281.27 90.72,280.88 89.82,280.16 88.92,279.76 88.02,278.75 87.12,278.28 86.22,277.76 85.32,277.21 84.42,276.26 83.52,276.28 82.62,275.58 81.72,274.98 80.82,275.46 79.92,276.04 79.02,276.71 78.12,278.3 77.22,280.67 76.32,282.24 75.42,283.78 74.52,285.3 73.62,287.68 72.72,288.53 71.82,289.13 70.92,289.8 70.02,290.44 69.12,291.0 68.22,291.55 67.32,292.4 66.42,293.27 65.52,294.1 64.62,294.32 63.72,292.61 62.82,291.21 61.92,289.88 61.02,289.09 60.12,288.74 59.22,288.23 58.32,288.5 57.42,288.66 56.52,288.89 55.62,289.18 54.72,289.4 53.82,289.42 52.92,289.49 52.02,289.84 51.12,290.14 50.22,290.22 49.32,290.69 48.42,290.89 47.52,291.15 46.62,291.33 45.72,291.52 44.82,291.75 43.92,291.8 43.02,291.74 42.12,291.54 41.22,291.39 40.32,291.09 39.42,291.3 38.52,291.31 37.62,291.55 36.72,292.05 35.82,292.3 34.92,292.6 34.02,292.95 33.12,292.29 32.22,292.42 31.32,291.83 30.42,291.38 29.52,291.28 28.62,291.11 27.72,290.77 26.82,290.3 25.92,290.19 25.02,290.34 24.12,290.18"/>
<line x1="36.3" x2="50" y1="286.25" y2="286.25" stroke="#e0474a" stroke-width="0.7" stroke-opacity="0.85"/>
<line x1="52.25" x2="63.5" y1="276.9" y2="276.9" stroke="#e0474a" stroke-width="0.7" stroke-opacity="0.85"/>
<line x1="66" x2="76" y1="286.25" y2="286.25" stroke="#e0474a" stroke-width="0.7" stroke-opacity="0.85"/>
<line x1="76.9" x2="119" y1="274.6" y2="274.6" stroke="#e0474a" stroke-width="0.7" stroke-opacity="0.85"/>
<line x1="119" x2="220.6" y1="265.25" y2="265.25" stroke="#e0474a" stroke-width="0.7" stroke-opacity="0.85"/>
<line x1="221.6" x2="231" y1="269.75" y2="269.75" stroke="#e0474a" stroke-width="0.7" stroke-opacity="0.85"/>
<line x1="231.9" x2="270.5" y1="258.05" y2="258.05" stroke="#e0474a" stroke-width="0.7" stroke-opacity="0.85"/>
<line x1="271.25" x2="280" y1="266.25" y2="266.25" stroke="#e0474a" stroke-width="0.7" stroke-opacity="0.85"/>
<polyline fill="none" stroke="#000" stroke-width="0.85" stroke-linejoin="round" points="24.12,284.38 27.5,284.38 30.31,284.0 33.12,284.75 35.56,286.25 37.25,283.81 38.75,282.5 40.62,284.38 42.88,286.25 45.31,285.88 47.75,284.75 49.62,282.5 51.5,281.19 53.38,282.12 55.06,283.44 56.94,281.0 59.38,279.69 61.62,278.38 63.5,281.56 65.56,285.69 67.44,284.38 69.31,283.44 71.56,283.44 73.44,279.69 75.0,275.94 76.5,273.5 78.38,270.31 80.25,267.5 81.56,266.56 83.44,268.06 85.31,269.75 87.19,271.62 90.0,273.69 92.81,275.0 95.62,275.94 98.44,277.25 101.25,278.38 104.06,279.12 106.88,279.12 108.75,278.38 110.62,279.12 112.5,278.38 114.38,277.44 116.25,275.56 119.06,274.06 120.94,272.19 122.81,269.38 123.75,268.06 125.25,269.75 127.12,269.0 129.38,267.12 130.0,267.5 131.88,268.44 133.75,269.38 135.62,268.06 137.5,268.81 139.38,268.06 141.25,268.44 143.12,267.5 145.0,266.56 146.88,266.0 148.75,265.62 150.62,264.69 153.44,264.12 155.31,263.38 157.19,262.81 159.06,263.38 161.88,263.75 163.75,264.12 165.62,263.38 167.5,263.0 169.38,261.88 171.25,261.88 173.12,260.94 175.0,260.0 176.88,259.06 178.75,259.62 180.62,260.38 182.5,259.62 184.38,258.12 185.0,258.12 186.88,260.0 188.75,261.5 190.62,262.81 192.5,264.69 194.38,267.12 196.25,268.06 198.12,269.0 200.0,269.38 201.88,270.31 203.75,271.25 205.62,271.62 207.5,271.62 209.38,270.88 211.25,270.69 213.12,270.31 215.0,269.94 216.88,269.38 218.75,269.0 219.69,269.75 221.56,268.44 223.44,267.5 225.31,266.56 227.19,265.62 229.06,265.06 230.94,264.31 232.81,264.69 234.69,264.12 236.56,264.31 238.44,263.75 240.0,263.75 242.5,262.5 245.0,261.75 247.5,261.25 250.0,260.5 251.75,259.5 253.75,260.5 256.25,260.25 258.75,260.5 261.25,261.5 263.75,263.0 266.25,265.0 268.75,267.5 271.25,270.0 273.75,272.0 275.5,272.5 277.5,271.75 280.0,270.5 282.5,269.5 286.25,268.5 290.0,268.0 293.75,267.5 297.5,267.25 301.25,267.0 305.0,266.75 308.75,266.75 312.5,266.75 316.5,266.75"/>
<rect x="221.5" y="193.30" width="9.7" height="176.40" fill="#b8860b" fill-opacity="0.15"/>
</g></g>
<g id="panel3">
<line x1="79.17" x2="79.17" y1="375.6" y2="561.3" stroke="#f1f1f1" stroke-width="0.35"/>
<line x1="168.50" x2="168.50" y1="375.6" y2="561.3" stroke="#f1f1f1" stroke-width="0.35"/>
<line x1="257.83" x2="257.83" y1="375.6" y2="561.3" stroke="#f1f1f1" stroke-width="0.35"/>
<line x1="21.5" x2="316.5" y1="531.80" y2="531.80" stroke="#f1f1f1" stroke-width="0.35"/>
<line x1="21.5" x2="316.5" y1="486.60" y2="486.60" stroke="#f1f1f1" stroke-width="0.35"/>
<line x1="21.5" x2="316.5" y1="441.40" y2="441.40" stroke="#f1f1f1" stroke-width="0.35"/>
<line x1="21.5" x2="316.5" y1="396.20" y2="396.20" stroke="#f1f1f1" stroke-width="0.35"/>
<line x1="34.50" x2="34.50" y1="375.6" y2="561.3" stroke="#e9e9e9" stroke-width="0.6"/>
<line x1="123.83" x2="123.83" y1="375.6" y2="561.3" stroke="#e9e9e9" stroke-width="0.6"/>
<line x1="213.16" x2="213.16" y1="375.6" y2="561.3" stroke="#e9e9e9" stroke-width="0.6"/>
<line x1="302.49" x2="302.49" y1="375.6" y2="561.3" stroke="#e9e9e9" stroke-width="0.6"/>
<line x1="21.5" x2="316.5" y1="554.40" y2="554.40" stroke="#e9e9e9" stroke-width="0.6"/>
<line x1="21.5" x2="316.5" y1="509.20" y2="509.20" stroke="#e9e9e9" stroke-width="0.6"/>
<line x1="21.5" x2="316.5" y1="464.00" y2="464.00" stroke="#e9e9e9" stroke-width="0.6"/>
<line x1="21.5" x2="316.5" y1="418.80" y2="418.80" stroke="#e9e9e9" stroke-width="0.6"/>
<g clip-path="url(#c3)">
<path fill="#333" d="M35.00 553.7V535.14H35.89V544.29H36.78V537.36H37.67V538.79H38.56V534.05H39.45V534.29H40.34V533.24H41.23V530.50H42.12V526.45H43.01V532.68H43.90V523.43H44.79V511.79H45.68V507.44H46.57V504.11H47.46V508.81H48.35V495.92H49.24V495.28H50.13V494.61H51.02V499.12H51.91V499.72H52.80V499.10H53.69V500.60H54.58V512.50H55.47V504.93H56.36V520.31H57.25V507.02H58.14V502.05H59.03V491.53H59.92V483.29H60.81V475.42H61.70V471.28H62.59V494.68H63.48V472.51H64.37V477.86H65.26V499.28H66.15V498.09H67.04V504.91H67.93V491.69H68.82V489.48H69.71V481.15H70.60V473.68H71.49V461.34H72.38V447.11H73.27V432.86H74.16V428.93H75.05V429.64H75.94V438.97H76.83V475.89H77.72V476.28H78.61V488.54H79.50V501.36H80.39V526.64H81.28V524.36H82.17V523.98H83.06V513.66H83.95V514.54H84.84V489.53H85.73V491.54H86.62V488.63H87.51V514.85H88.40V492.62H89.29V493.59H90.18V501.02H91.07V503.23H91.96V510.15H92.85V502.87H93.74V505.99H94.63V497.71H95.52V494.76H96.41V509.49H97.30V497.86H98.19V493.45H99.08V498.54H99.97V492.57H100.86V490.56H101.75V490.24H102.64V491.01H103.53V486.65H104.42V486.46H105.31V488.57H106.20V485.01H107.09V483.07H107.98V484.68H108.87V481.14H109.76V481.97H110.65V468.90H111.54V486.17H112.43V462.25H113.32V464.53H114.21V464.42H115.10V473.18H115.99V470.80H116.88V491.35H117.77V458.50H118.66V458.36H119.55V469.39H120.44V479.68H121.33V495.58H122.22V469.12H123.11V467.62H124.00V475.22H124.89V477.95H125.78V456.87H126.67V456.08H127.56V481.62H128.45V491.65H129.34V475.72H130.23V485.69H131.12V482.31H132.01V488.71H132.90V487.36H133.79V483.67H134.68V484.98H135.57V485.59H136.46V498.75H137.35V497.67H138.24V494.99H139.13V494.63H140.02V493.68H140.91V496.82H141.80V499.30H142.69V494.37H143.58V492.82H144.47V499.45H145.36V501.29H146.25V498.96H147.14V500.44H148.03V499.84H148.92V495.43H149.81V490.82H150.70V496.08H151.59V499.40H152.48V512.23H153.37V517.58H154.26V504.76H155.15V503.81H156.04V508.14H156.93V524.24H157.82V507.30H158.71V511.73H159.60V515.30H160.49V527.05H161.38V534.13H162.27V519.99H163.16V517.57H164.05V524.58H164.94V534.49H165.83V521.09H166.72V524.12H167.61V536.42H168.50V522.38H169.39V520.14H170.28V532.55H171.17V527.49H172.06V534.58H172.95V528.32H173.84V533.80H174.73V535.72H175.62V542.51H176.51V536.64H177.40V542.58H178.29V538.76H179.18V532.70H180.07V534.78H180.96V520.15H181.85V511.72H182.74V511.73H183.63V513.45H184.52V510.48H185.41V478.99H186.30V472.72H187.19V501.21H188.08V483.82H188.97V481.70H189.86V483.93H190.75V491.82H191.64V480.36H192.53V480.83H193.42V488.62H194.31V480.86H195.20V506.74H196.09V484.06H196.98V497.65H197.87V492.66H198.76V492.59H199.65V495.02H200.54V490.43H201.43V486.94H202.32V491.74H203.21V502.82H204.10V507.52H204.99V505.87H205.88V504.97H206.77V494.77H207.66V494.72H208.55V507.07H209.44V513.95H210.33V508.13H211.22V512.32H212.11V490.44H213.00V489.90H213.89V490.19H214.78V507.37H215.67V489.48H216.56V489.76H217.45V498.30H218.34V493.71H219.23V495.61H220.12V499.75H221.01V511.52H221.90V487.74H222.79V486.87H223.68V495.77H224.57V496.27H225.46V498.62H226.35V511.30H227.24V491.70H228.13V494.08H229.02V493.19H229.91V482.53H230.80V475.85H231.69V478.58H232.58V497.20H233.47V485.87H234.36V487.39H235.25V499.25H236.14V489.72H237.03V501.39H237.92V510.46H238.81V504.58H239.70V523.11H240.59V505.12H241.48V506.67H242.37V503.46H243.26V520.86H244.15V512.73H245.04V497.86H245.93V521.80H246.82V505.77H247.71V502.90H248.60V511.81H249.49V512.28H250.38V517.93H251.27V503.85H252.16V494.76H253.05V486.63H253.94V488.80H254.83V493.16H255.72V497.38H256.61V497.07H257.50V496.66H258.39V500.55H259.28V506.39H260.17V500.80H261.06V501.98H261.95V494.51H262.84V488.53H263.73V489.88H264.62V489.88H265.51V487.82H266.40V509.58H267.29V486.32H268.18V478.35H269.07V487.73H269.96V445.62H270.85V445.69H271.74V473.70H272.63V486.45H273.52V496.60H274.41V508.85H275.30V498.85H276.19V503.08H277.08V505.84H277.97V517.51H278.86V521.43H279.75V513.42H280.64V516.88H281.53V516.30H282.42V516.56H283.31V525.48H284.20V520.57H285.09V527.97H285.98V526.92H286.87V526.74H287.76V525.76H288.65V526.40H289.54V539.59H290.43V528.64H291.32V534.56H292.21V533.44H293.10V530.90H293.99V531.77H294.88V530.10H295.77V528.00H296.66V531.04H297.55V530.62H298.44V536.43H299.33V524.50H300.22V523.83H301.11V529.17H302.00V553.7Z"/>
<path fill="none" stroke="#e41a1c" stroke-width="0.46" d="M35.00 535.36V535.48H35.89V535.21H36.78V530.59H37.67V531.00H38.56V527.15H39.45V524.92H40.34V525.90H41.23V521.85H42.12V517.86H43.01V490.39H43.90V482.65H44.79V485.75H45.68V499.01H46.57V496.55H47.46V494.79H48.35V491.45H49.24V486.95H50.13V484.39H51.02V482.46H51.91V482.48H52.80V480.79H53.69V478.81H54.58V477.54H55.47V473.93H56.36V473.79H57.25V473.98H58.14V479.99H59.03V478.54H59.92V478.67H60.81V476.12H61.70V476.75H62.59V473.22H63.48V474.20H64.37V482.82H65.26V477.88H66.15V479.55H67.04V476.71H67.93V473.66H68.82V472.43H69.71V470.22H70.60V468.22H71.49V463.90H72.38V460.43H73.27V456.85H74.16V456.65H75.05V458.31H75.94V457.25H76.83V456.48H77.72V449.24H78.61V445.80H79.50V441.54H80.39V432.26H81.28V433.04H82.17V426.17H83.06V432.17H83.95V438.53H84.84V447.76H85.73V449.38H86.62V460.41H87.51V462.91H88.40V465.81H89.29V462.92H90.18V462.40H91.07V458.26H91.96V458.74H92.85V458.41H93.74V462.07H94.63V460.25H95.52V460.91H96.41V462.36H97.30V464.86H98.19V467.67H99.08V463.02H99.97V463.81H100.86V462.83H101.75V463.16H102.64V461.70H103.53V460.42H104.42V463.12H105.31V461.85H106.20V466.36H107.09V463.84H107.98V463.41H108.87V469.72H109.76V470.44H110.65V468.45H111.54V466.50H112.43V467.18H113.32V470.40H114.21V469.45H115.10V468.55H115.99V470.58H116.88V472.70H117.77V471.40H118.66V470.32H119.55V475.52H120.44V474.39H121.33V472.46H122.22V471.14H123.11V473.94H124.00V473.36H124.89V473.29H125.78V472.09H126.67V471.36H127.56V473.70H128.45V473.33H129.34V472.90H130.23V475.53H131.12V474.30H132.01V474.87H132.90V475.73H133.79V474.40H134.68V474.87H135.57V475.45H136.46V474.48H137.35V477.27H138.24V478.63H139.13V477.51H140.02V477.42H140.91V477.84H141.80V477.61H142.69V478.97H143.58V480.45H144.47V478.99H145.36V477.02H146.25V473.31H147.14V474.29H148.03V474.79H148.92V474.73H149.81V474.26H150.70V476.34H151.59V476.12H152.48V473.22H153.37V474.50H154.26V476.17H155.15V477.75H156.04V475.53H156.93V479.78H157.82V477.59H158.71V477.89H159.60V475.00H160.49V473.76H161.38V471.25H162.27V471.39H163.16V471.06H164.05V473.60H164.94V473.68H165.83V471.57H166.72V472.12H167.61V471.98H168.50V470.00H169.39V470.51H170.28V467.84H171.17V466.21H172.06V463.17H172.95V455.92H173.84V452.28H174.73V445.83H175.62V440.13H176.51V434.56H177.40V425.81H178.29V416.68H179.18V416.04H180.07V423.23H180.96V426.19H181.85V435.29H182.74V443.85H183.63V447.77H184.52V457.65H185.41V461.88H186.30V464.15H187.19V462.72H188.08V461.31H188.97V460.87H189.86V465.41H190.75V468.12H191.64V468.62H192.53V469.66H193.42V472.87H194.31V473.86H195.20V469.40H196.09V469.68H196.98V470.59H197.87V470.45H198.76V475.27H199.65V473.75H200.54V475.56H201.43V471.13H202.32V472.35H203.21V477.43H204.10V477.87H204.99V476.66H205.88V476.03H206.77V471.85H207.66V473.54H208.55V474.15H209.44V476.98H210.33V480.20H211.22V480.48H212.11V481.68H213.00V479.40H213.89V480.60H214.78V482.87H215.67V483.25H216.56V484.64H217.45V482.15H218.34V487.42H219.23V482.80H220.12V484.56H221.01V481.70H221.90V485.74H222.79V484.66H223.68V485.14H224.57V484.70H225.46V482.02H226.35V481.69H227.24V480.75H228.13V483.19H229.02V481.06H229.91V480.67H230.80V478.72H231.69V484.88H232.58V482.03H233.47V485.16H234.36V483.43H235.25V485.14H236.14V482.33H237.03V483.26H237.92V483.98H238.81V486.04H239.70V488.37H240.59V485.45H241.48V486.90H242.37V486.61H243.26V484.25H244.15V483.45H245.04V486.23H245.93V486.01H246.82V485.95H247.71V487.37H248.60V483.87H249.49V485.23H250.38V484.68H251.27V484.77H252.16V485.85H253.05V487.22H253.94V485.94H254.83V483.90H255.72V485.45H256.61V481.91H257.50V483.18H258.39V482.39H259.28V480.88H260.17V481.85H261.06V479.08H261.95V481.08H262.84V480.33H263.73V481.18H264.62V481.00H265.51V482.73H266.40V482.82H267.29V483.12H268.18V484.36H269.07V486.05H269.96V487.03H270.85V481.60H271.74V479.08H272.63V481.84H273.52V481.38H274.41V479.34H275.30V483.01H276.19V483.95H277.08V489.01H277.97V496.01H278.86V501.95H279.75V508.91H280.64V510.44H281.53V515.90H282.42V515.67H283.31V517.74H284.20V516.44H285.09V519.37H285.98V522.66H286.87V522.91H287.76V521.24H288.65V525.29H289.54V524.18H290.43V523.91H291.32V526.33H292.21V522.53H293.10V524.68H293.99V525.76H294.88V525.91H295.77V527.12H296.66V523.39H297.55V522.38H298.44V525.37H299.33V522.11H300.22V523.83H301.11V522.67H302.00"/>
<path fill="none" stroke="#377eb8" stroke-width="0.46" d="M35.00 532.77V531.24H35.89V527.04H36.78V527.18H37.67V521.11H38.56V521.42H39.45V515.56H40.34V516.81H41.23V511.89H42.12V507.25H43.01V477.24H43.90V469.27H44.79V474.25H45.68V487.29H46.57V490.13H47.46V484.75H48.35V482.98H49.24V481.81H50.13V478.35H51.02V475.29H51.91V476.89H52.80V472.71H53.69V470.53H54.58V470.06H55.47V464.09H56.36V460.05H57.25V467.41H58.14V472.17H59.03V471.23H59.92V470.24H60.81V469.61H61.70V467.54H62.59V461.11H63.48V464.29H64.37V470.04H65.26V463.02H66.15V462.76H67.04V462.76H67.93V463.53H68.82V457.99H69.71V454.74H70.60V457.42H71.49V452.15H72.38V448.20H73.27V445.74H74.16V443.46H75.05V441.64H75.94V440.06H76.83V441.56H77.72V437.56H78.61V429.74H79.50V420.77H80.39V415.87H81.28V414.65H82.17V407.48H83.06V412.73H83.95V419.33H84.84V428.62H85.73V444.72H86.62V451.56H87.51V451.68H88.40V450.06H89.29V442.57H90.18V447.27H91.07V445.26H91.96V443.86H92.85V446.27H93.74V448.45H94.63V453.47H95.52V451.25H96.41V454.71H97.30V455.96H98.19V458.20H99.08V456.73H99.97V452.42H100.86V455.51H101.75V456.31H102.64V451.02H103.53V451.58H104.42V456.28H105.31V457.11H106.20V458.19H107.09V457.64H107.98V465.83H108.87V465.03H109.76V465.18H110.65V461.26H111.54V457.03H112.43V458.38H113.32V462.12H114.21V463.53H115.10V461.10H115.99V464.50H116.88V463.59H117.77V465.92H118.66V467.61H119.55V469.09H120.44V466.22H121.33V464.47H122.22V470.05H123.11V469.29H124.00V469.65H124.89V467.70H125.78V467.93H126.67V466.69H127.56V462.47H128.45V462.98H129.34V466.58H130.23V469.80H131.12V472.09H132.01V468.58H132.90V469.83H133.79V470.03H134.68V471.36H135.57V468.64H136.46V469.04H137.35V466.25H138.24V466.07H139.13V466.65H140.02V470.77H140.91V472.01H141.80V471.74H142.69V475.83H143.58V475.73H144.47V473.05H145.36V471.38H146.25V467.93H147.14V469.82H148.03V464.64H148.92V464.11H149.81V469.16H150.70V468.83H151.59V468.57H152.48V467.32H153.37V469.30H154.26V467.88H155.15V473.36H156.04V472.24H156.93V471.79H157.82V469.02H158.71V469.57H159.60V472.08H160.49V470.87H161.38V469.37H162.27V464.51H163.16V463.82H164.05V468.24H164.94V467.43H165.83V464.25H166.72V464.21H167.61V461.45H168.50V459.73H169.39V461.70H170.28V458.26H171.17V458.24H172.06V455.21H172.95V445.86H173.84V442.01H174.73V442.32H175.62V434.73H176.51V419.17H177.40V402.53H178.29V394.03H179.18V391.37H180.07V391.35H180.96V383.47H181.85V393.40H182.74V412.72H183.63V433.89H184.52V443.57H185.41V451.66H186.30V454.29H187.19V454.39H188.08V450.90H188.97V455.27H189.86V455.14H190.75V448.77H191.64V463.34H192.53V460.91H193.42V461.14H194.31V464.33H195.20V464.95H196.09V464.03H196.98V461.35H197.87V459.76H198.76V464.03H199.65V464.74H200.54V467.21H201.43V465.46H202.32V466.39H203.21V467.94H204.10V470.11H204.99V469.77H205.88V468.70H206.77V462.23H207.66V459.25H208.55V461.88H209.44V472.22H210.33V474.18H211.22V472.41H212.11V473.40H213.00V476.66H213.89V478.86H214.78V476.67H215.67V479.32H216.56V478.33H217.45V478.52H218.34V478.19H219.23V478.66H220.12V478.98H221.01V480.55H221.90V479.03H222.79V480.55H223.68V479.63H224.57V480.29H225.46V479.58H226.35V479.04H227.24V478.78H228.13V480.48H229.02V479.54H229.91V477.69H230.80V474.78H231.69V479.85H232.58V482.36H233.47V482.64H234.36V479.53H235.25V480.72H236.14V480.48H237.03V479.65H237.92V479.73H238.81V480.92H239.70V478.46H240.59V480.17H241.48V482.78H242.37V481.02H243.26V482.25H244.15V479.10H245.04V480.30H245.93V481.85H246.82V480.48H247.71V480.53H248.60V484.05H249.49V479.15H250.38V479.47H251.27V480.09H252.16V481.19H253.05V480.22H253.94V480.67H254.83V479.67H255.72V477.63H256.61V477.25H257.50V475.40H258.39V474.84H259.28V475.41H260.17V476.91H261.06V475.66H261.95V476.12H262.84V477.82H263.73V476.01H264.62V476.67H265.51V474.96H266.40V474.82H267.29V475.13H268.18V479.89H269.07V477.80H269.96V474.90H270.85V473.03H271.74V473.07H272.63V472.25H273.52V470.91H274.41V466.89H275.30V471.23H276.19V479.91H277.08V480.41H277.97V488.03H278.86V499.73H279.75V503.59H280.64V511.29H281.53V512.57H282.42V513.66H283.31V518.01H284.20V516.09H285.09V515.83H285.98V517.77H286.87V520.38H287.76V521.79H288.65V520.83H289.54V518.87H290.43V520.47H291.32V520.61H292.21V520.01H293.10V522.27H293.99V521.16H294.88V521.65H295.77V521.37H296.66V520.49H297.55V521.70H298.44V522.43H299.33V523.71H300.22V520.40H301.11V522.03H302.00"/>
<line x1="35.7" x2="35.7" y1="375.6" y2="561.3" stroke="#8a8a8a" stroke-width="0.4" stroke-dasharray="1.1 1.1"/>
<line x1="50.6" x2="50.6" y1="375.6" y2="561.3" stroke="#8a8a8a" stroke-width="0.4" stroke-dasharray="1.1 1.1"/>
<line x1="64.4" x2="64.4" y1="375.6" y2="561.3" stroke="#8a8a8a" stroke-width="0.4" stroke-dasharray="1.1 1.1"/>
<line x1="75.6" x2="75.6" y1="375.6" y2="561.3" stroke="#8a8a8a" stroke-width="0.4" stroke-dasharray="1.1 1.1"/>
<line x1="118.5" x2="118.5" y1="375.6" y2="561.3" stroke="#8a8a8a" stroke-width="0.4" stroke-dasharray="1.1 1.1"/>
<line x1="220.5" x2="220.5" y1="375.6" y2="561.3" stroke="#8a8a8a" stroke-width="0.4" stroke-dasharray="1.1 1.1"/>
<line x1="231.4" x2="231.4" y1="375.6" y2="561.3" stroke="#8a8a8a" stroke-width="0.4" stroke-dasharray="1.1 1.1"/>
<line x1="270.6" x2="270.6" y1="375.6" y2="561.3" stroke="#8a8a8a" stroke-width="0.4" stroke-dasharray="1.1 1.1"/>
<line x1="287.3" x2="287.3" y1="375.6" y2="561.3" stroke="#8a8a8a" stroke-width="0.4" stroke-dasharray="1.1 1.1"/>
<line x1="300.0" x2="300.0" y1="375.6" y2="561.3" stroke="#8a8a8a" stroke-width="0.4" stroke-dasharray="1.1 1.1"/>
<rect x="23.55" y="380.15" width="24.3" height="8.0" rx="1" ry="1" fill="#fff" stroke="#333" stroke-width="0.45"/>
<text x="25.25" y="386.10" font-family="Liberation Sans, Arial, sans-serif" font-size="5.5" fill="#222">p = 0.05</text>
<rect x="63.35" y="380.15" width="24.3" height="8.0" rx="1" ry="1" fill="#fff" stroke="#333" stroke-width="0.45"/>
<text x="65.05" y="386.10" font-family="Liberation Sans, Arial, sans-serif" font-size="5.5" fill="#222">p = 0.02</text>
<rect x="52.30" y="380.15" width="24.3" height="8.0" rx="1" ry="1" fill="#fff" stroke="#333" stroke-width="0.45"/>
<text x="54.00" y="386.10" font-family="Liberation Sans, Arial, sans-serif" font-size="5.5" fill="#222">p = 0.05</text>
<rect x="38.85" y="380.15" width="24.3" height="8.0" rx="1" ry="1" fill="#fff" stroke="#333" stroke-width="0.45"/>
<text x="40.55" y="386.10" font-family="Liberation Sans, Arial, sans-serif" font-size="5.5" fill="#222">p = 0.08</text>
<rect x="106.35" y="380.15" width="24.3" height="8.0" rx="1" ry="1" fill="#fff" stroke="#333" stroke-width="0.45"/>
<text x="108.05" y="386.10" font-family="Liberation Sans, Arial, sans-serif" font-size="5.5" fill="#222">p = 0.01</text>
<rect x="218.80" y="380.15" width="24.3" height="8.0" rx="1" ry="1" fill="#fff" stroke="#333" stroke-width="0.45"/>
<text x="220.50" y="386.10" font-family="Liberation Sans, Arial, sans-serif" font-size="5.5" fill="#222">p = 0.01</text>
<rect x="208.55" y="380.15" width="24.3" height="8.0" rx="1" ry="1" fill="#fff" stroke="#333" stroke-width="0.45"/>
<text x="210.25" y="386.10" font-family="Liberation Sans, Arial, sans-serif" font-size="5.5" fill="#222">p = 0.08</text>
<rect x="258.75" y="380.15" width="24.3" height="8.0" rx="1" ry="1" fill="#fff" stroke="#333" stroke-width="0.45"/>
<text x="260.45" y="386.10" font-family="Liberation Sans, Arial, sans-serif" font-size="5.5" fill="#222">p &lt; 0.01</text>
<rect x="287.25" y="380.15" width="24.3" height="8.0" rx="1" ry="1" fill="#fff" stroke="#333" stroke-width="0.45"/>
<text x="288.95" y="386.10" font-family="Liberation Sans, Arial, sans-serif" font-size="5.5" fill="#222">p = 0.01</text>
<rect x="275.15" y="380.15" width="24.3" height="8.0" rx="1" ry="1" fill="#fff" stroke="#333" stroke-width="0.45"/>
<text x="276.85" y="386.10" font-family="Liberation Sans, Arial, sans-serif" font-size="5.5" fill="#222">p = 0.02</text>
<line x1="276" x2="283.4" y1="408.3" y2="408.3" stroke="#e41a1c" stroke-width="0.5"/>
<line x1="276" x2="283.4" y1="417.6" y2="417.6" stroke="#377eb8" stroke-width="0.5"/>
<text x="287.3" y="409.9" font-family="Liberation Sans, Arial, sans-serif" font-size="4.4" fill="#222">q0.9</text>
<text x="287.3" y="419.2" font-family="Liberation Sans, Arial, sans-serif" font-size="4.4" fill="#222">q0.95</text>
</g></g>
<rect x="21.5" y="3.2" width="295.0" height="558.0999999999999" fill="none" stroke="#6e6e6e" stroke-width="0.75"/>
<line x1="21.5" x2="316.5" y1="184.3" y2="184.3" stroke="#6e6e6e" stroke-width="0.85"/>
<line x1="21.5" x2="316.5" y1="375.6" y2="375.6" stroke="#6e6e6e" stroke-width="0.85"/>
<line x1="34.50" x2="34.50" y1="182.70000000000002" y2="184.3" stroke="#6e6e6e" stroke-width="0.5"/>
<line x1="34.50" x2="34.50" y1="561.3" y2="563.0999999999999" stroke="#6e6e6e" stroke-width="0.5"/>
<line x1="123.83" x2="123.83" y1="182.70000000000002" y2="184.3" stroke="#6e6e6e" stroke-width="0.5"/>
<line x1="123.83" x2="123.83" y1="561.3" y2="563.0999999999999" stroke="#6e6e6e" stroke-width="0.5"/>
<line x1="213.16" x2="213.16" y1="182.70000000000002" y2="184.3" stroke="#6e6e6e" stroke-width="0.5"/>
<line x1="213.16" x2="213.16" y1="561.3" y2="563.0999999999999" stroke="#6e6e6e" stroke-width="0.5"/>
<line x1="302.49" x2="302.49" y1="182.70000000000002" y2="184.3" stroke="#6e6e6e" stroke-width="0.5"/>
<line x1="302.49" x2="302.49" y1="561.3" y2="563.0999999999999" stroke="#6e6e6e" stroke-width="0.5"/>
<line x1="19.7" x2="21.5" y1="11.70" y2="11.70" stroke="#6e6e6e" stroke-width="0.5"/>
<text x="18.9" y="13.35" font-family="Liberation Sans, Arial, sans-serif" font-size="4.7" text-anchor="end" fill="#4d4d4d">-7</text>
<line x1="19.7" x2="21.5" y1="193.30" y2="193.30" stroke="#6e6e6e" stroke-width="0.5"/>
<text x="18.9" y="194.95" font-family="Liberation Sans, Arial, sans-serif" font-size="4.7" text-anchor="end" fill="#4d4d4d">-7</text>
<line x1="19.7" x2="21.5" y1="52.85" y2="52.85" stroke="#6e6e6e" stroke-width="0.5"/>
<text x="18.9" y="54.50" font-family="Liberation Sans, Arial, sans-serif" font-size="4.7" text-anchor="end" fill="#4d4d4d">-6</text>
<line x1="19.7" x2="21.5" y1="237.40" y2="237.40" stroke="#6e6e6e" stroke-width="0.5"/>
<text x="18.9" y="239.05" font-family="Liberation Sans, Arial, sans-serif" font-size="4.7" text-anchor="end" fill="#4d4d4d">-6</text>
<line x1="19.7" x2="21.5" y1="94.00" y2="94.00" stroke="#6e6e6e" stroke-width="0.5"/>
<text x="18.9" y="95.65" font-family="Liberation Sans, Arial, sans-serif" font-size="4.7" text-anchor="end" fill="#4d4d4d">-5</text>
<line x1="19.7" x2="21.5" y1="281.50" y2="281.50" stroke="#6e6e6e" stroke-width="0.5"/>
<text x="18.9" y="283.15" font-family="Liberation Sans, Arial, sans-serif" font-size="4.7" text-anchor="end" fill="#4d4d4d">-5</text>
<line x1="19.7" x2="21.5" y1="135.15" y2="135.15" stroke="#6e6e6e" stroke-width="0.5"/>
<text x="18.9" y="136.80" font-family="Liberation Sans, Arial, sans-serif" font-size="4.7" text-anchor="end" fill="#4d4d4d">-4</text>
<line x1="19.7" x2="21.5" y1="325.60" y2="325.60" stroke="#6e6e6e" stroke-width="0.5"/>
<text x="18.9" y="327.25" font-family="Liberation Sans, Arial, sans-serif" font-size="4.7" text-anchor="end" fill="#4d4d4d">-4</text>
<line x1="19.7" x2="21.5" y1="176.30" y2="176.30" stroke="#6e6e6e" stroke-width="0.5"/>
<text x="18.9" y="177.95" font-family="Liberation Sans, Arial, sans-serif" font-size="4.7" text-anchor="end" fill="#4d4d4d">-3</text>
<line x1="19.7" x2="21.5" y1="369.70" y2="369.70" stroke="#6e6e6e" stroke-width="0.5"/>
<text x="18.9" y="371.35" font-family="Liberation Sans, Arial, sans-serif" font-size="4.7" text-anchor="end" fill="#4d4d4d">-3</text>
<line x1="19.7" x2="21.5" y1="554.40" y2="554.40" stroke="#6e6e6e" stroke-width="0.5"/>
<text x="18.9" y="556.05" font-family="Liberation Sans, Arial, sans-serif" font-size="4.7" text-anchor="end" fill="#4d4d4d">0.00</text>
<line x1="19.7" x2="21.5" y1="509.20" y2="509.20" stroke="#6e6e6e" stroke-width="0.5"/>
<text x="18.9" y="510.85" font-family="Liberation Sans, Arial, sans-serif" font-size="4.7" text-anchor="end" fill="#4d4d4d">0.03</text>
<line x1="19.7" x2="21.5" y1="464.00" y2="464.00" stroke="#6e6e6e" stroke-width="0.5"/>
<text x="18.9" y="465.65" font-family="Liberation Sans, Arial, sans-serif" font-size="4.7" text-anchor="end" fill="#4d4d4d">0.06</text>
<line x1="19.7" x2="21.5" y1="418.80" y2="418.80" stroke="#6e6e6e" stroke-width="0.5"/>
<text x="18.9" y="420.45" font-family="Liberation Sans, Arial, sans-serif" font-size="4.7" text-anchor="end" fill="#4d4d4d">0.09</text>
<text x="34.50" y="567.9" font-family="Liberation Sans, Arial, sans-serif" font-size="4.7" text-anchor="middle" fill="#4d4d4d">10000</text>
<text x="123.83" y="567.9" font-family="Liberation Sans, Arial, sans-serif" font-size="4.7" text-anchor="middle" fill="#4d4d4d">9000</text>
<text x="213.16" y="567.9" font-family="Liberation Sans, Arial, sans-serif" font-size="4.7" text-anchor="middle" fill="#4d4d4d">8000</text>
<text x="302.49" y="567.9" font-family="Liberation Sans, Arial, sans-serif" font-size="4.7" text-anchor="middle" fill="#4d4d4d">7000</text>
<text transform="translate(7.6,94) rotate(-90)" font-family="Liberation Sans, Arial, sans-serif" font-size="5.6" text-anchor="middle" fill="#111">d18O, permil</text>
<text transform="translate(7.6,279.6) rotate(-90)" font-family="Liberation Sans, Arial, sans-serif" font-size="5.6" text-anchor="middle" fill="#444">d18O (permil)</text>
<text transform="translate(7.9,470.5) rotate(-90)" font-family="Liberation Sans, Arial, sans-serif" font-size="6.2" text-anchor="middle" fill="#111">Shift Frequency</text>
<text x="169.2" y="575.2" font-family="Liberation Sans, Arial, sans-serif" font-size="5.6" text-anchor="middle" fill="#111">age (yr BP)</text>
</svg>
</body></html>
